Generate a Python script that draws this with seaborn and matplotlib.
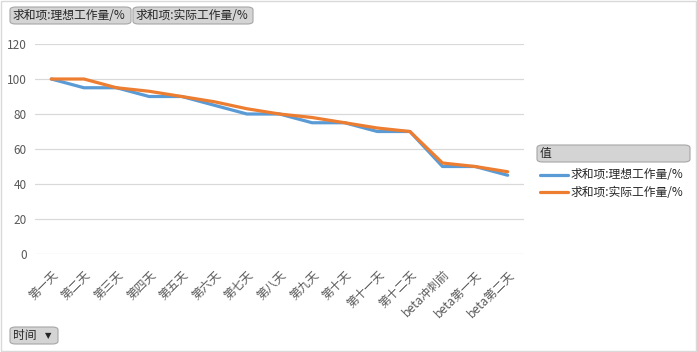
import pandas as pd
import matplotlib.pyplot as plt
import seaborn as sns
from matplotlib.patches import FancyBboxPatch, Rectangle
from matplotlib.lines import Line2D

days = ["第一天", "第二天", "第三天", "第四天", "第五天", "第六天", "第七天", "第八天",
        "第九天", "第十天", "第十一天", "第十二天", "beta冲刺前", "beta第一天", "beta第二天"]
ideal = [100, 95, 95, 90, 90, 85, 80, 80, 75, 75, 70, 70, 50, 50, 45]
actual = [100, 100, 95, 93, 90, 87, 83, 80, 78, 75, 72, 70, 52, 50, 47]
series_names = ["求和项:理想工作量/%", "求和项:实际工作量/%"]
colors = ["#5B9BD5", "#ED7D31"]

df = pd.DataFrame({"时间": days * 2,
                   "值": ideal + actual,
                   "series": [series_names[0]] * len(days) + [series_names[1]] * len(days)})
df["pos"] = list(range(len(days))) * 2

sns.set_style("white")
plt.rcParams['font.family'] = ['Noto Sans CJK SC', 'DejaVu Sans']

fig = plt.figure(figsize=(6.97, 3.52), dpi=100)
ax = fig.add_axes([35 / 697, 1 - 254 / 352, 489 / 697, 210 / 352])

sns.lineplot(data=df, x="pos", y="值", hue="series", palette=colors,
             linewidth=2.3, sort=False, legend=False, ax=ax)

ax.set_xlim(-0.5, len(days) - 0.5)
ax.set_ylim(0, 120)
ax.set_yticks(range(0, 121, 20))
ax.yaxis.grid(True, color="#D9D9D9", linewidth=0.9)
ax.set_axisbelow(True)
for s in ax.spines.values():
    s.set_visible(False)
ax.set_xlabel("")
ax.set_ylabel("")
ax.set_xticks(range(len(days)))
ax.set_xticklabels(days, rotation=45, ha="right", rotation_mode="anchor")
ax.tick_params(axis="both", length=0, labelsize=8.5, colors="#595959", pad=6)
ax.tick_params(axis="x", pad=10)

# figure border
fig.patches.append(Rectangle((0.001, 0.002), 0.997, 0.996, transform=fig.transFigure,
                             fill=False, edgecolor="#D9D9D9", linewidth=1))

def button(x, y, w, h, text, arrow=False):
    box = FancyBboxPatch((x / 697, 1 - (y + h) / 352), w / 697, h / 352,
                         boxstyle="round,pad=0,rounding_size=0.008",
                         transform=fig.transFigure, facecolor="#D4D4D4",
                         edgecolor="#A6A6A6", linewidth=0.8)
    fig.patches.append(box)
    fig.text((x + 3) / 697, 1 - (y + h / 2) / 352, text, fontsize=8.5,
             color="#262626", va="center", ha="left")
    if arrow:
        fig.text((x + w - 10) / 697, 1 - (y + h / 2) / 352, "▼", fontsize=6,
                 color="#262626", va="center", ha="center", family="DejaVu Sans")

button(10, 7, 121, 17, series_names[0])
button(133, 7, 120, 17, series_names[1])
button(10, 327, 48, 17, "时间", arrow=True)
button(537, 145, 153, 17, "值")

for i, (name, c) in enumerate(zip(series_names, colors)):
    yy = 1 - (175 + i * 17) / 352
    fig.add_artist(Line2D([540 / 697, 568 / 697], [yy, yy], color=c, linewidth=2.3,
                          transform=fig.transFigure))
    fig.text(571 / 697, yy, name, fontsize=8.5, color="#262626", va="center", ha="left")

fig.savefig("out.png", dpi=100)
